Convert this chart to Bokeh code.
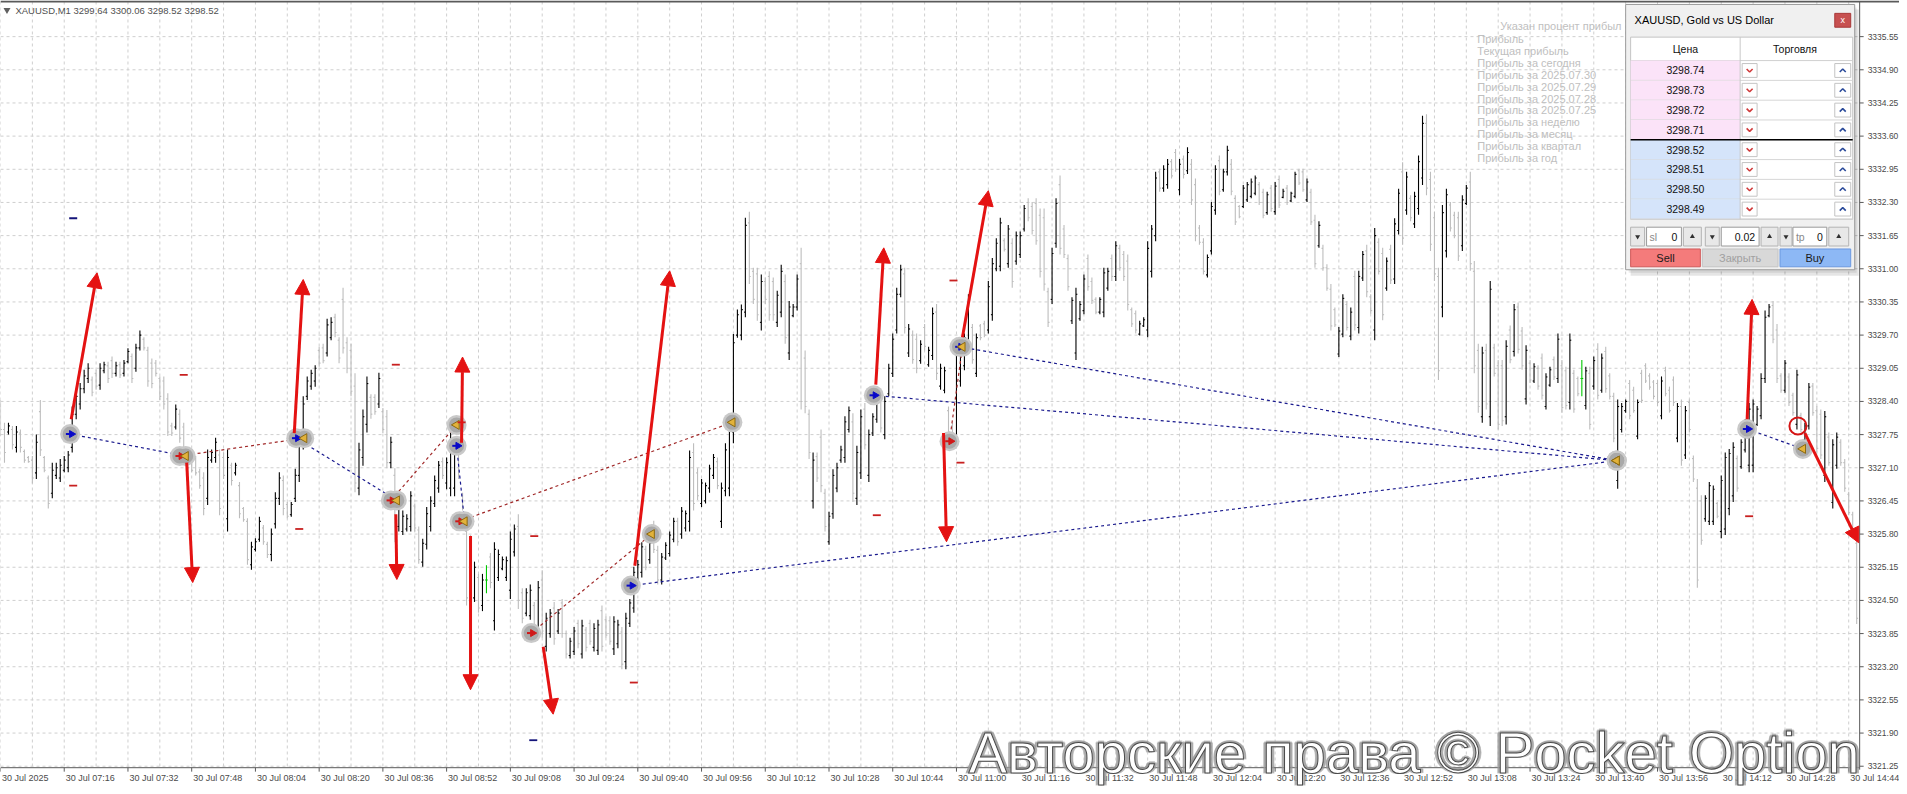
import math
from bokeh.plotting import figure
from bokeh.models import (ColumnDataSource, Range1d, Label, LabelSet, Arrow, NormalHead)
from bokeh.core.properties import value
from bokeh.embed import file_html
from bokeh.resources import INLINE

FONT = "Liberation Sans"

# ---------------- data: XAUUSD M1 bars (one per minute from 07:00) ----------------
opens = [
 3328.30, 3327.85, 3327.80, 3327.85, 3327.50, 3327.78, 3327.42, 3327.30, 3327.25, 3327.00,
 3328.20, 3327.30, 3326.90, 3326.60, 3326.95, 3326.90, 3327.05, 3327.10, 3327.50, 3328.15,
 3328.35, 3328.65, 3328.85, 3328.82, 3328.95, 3328.72, 3329.00, 3329.10, 3329.20, 3328.95,
 3329.12, 3328.95, 3329.18, 3329.28, 3329.05, 3329.45, 3329.62, 3329.40, 3329.15, 3329.15,
 3328.85, 3328.80, 3328.45, 3327.92, 3327.90, 3328.15, 3327.90, 3327.40, 3327.28, 3327.28,
 3327.02, 3326.90, 3326.50, 3327.25, 3327.30, 3327.35, 3327.30, 3326.10, 3327.15, 3327.00,
 3326.75, 3326.30, 3326.05, 3325.20, 3325.50, 3325.70, 3325.92, 3325.60, 3325.40, 3326.00,
 3326.50, 3326.85, 3326.38, 3326.18, 3326.50, 3326.95, 3327.60, 3328.50, 3328.70, 3328.80,
 3329.40, 3329.45, 3329.35, 3329.65, 3330.05, 3329.60, 3330.40, 3329.55, 3329.40, 3328.70,
 3326.70, 3327.30, 3327.95, 3328.48, 3328.48, 3328.35, 3328.20, 3328.10, 3327.20, 3326.95,
 3325.95, 3325.85, 3325.90, 3325.95, 3326.35, 3325.88, 3325.25, 3325.60, 3325.95, 3326.40,
 3326.70, 3327.22, 3326.80, 3326.70, 3326.70, 3327.45, 3326.55, 3325.85, 3325.60, 3324.55,
 3324.95, 3324.40, 3324.90, 3325.35, 3324.10, 3324.95, 3325.12, 3324.95, 3324.70, 3325.45,
 3325.95, 3324.65, 3324.25, 3324.20, 3324.40, 3323.90, 3324.90, 3323.60, 3323.85, 3324.35,
 3323.90, 3324.45, 3323.85, 3323.42, 3323.50, 3324.05, 3323.45, 3323.92, 3324.05, 3323.58,
 3323.52, 3324.30, 3324.12, 3324.10, 3323.55, 3323.65, 3323.88, 3323.30, 3324.05, 3324.35,
 3324.82, 3325.05, 3325.50, 3325.30, 3325.98, 3325.48, 3324.90, 3325.33, 3325.42, 3325.70,
 3326.05, 3325.80, 3325.92, 3326.05, 3327.40, 3327.00, 3326.40, 3326.45, 3326.70, 3326.95,
 3327.22, 3326.05, 3326.65, 3326.70, 3327.80, 3329.70, 3329.70, 3330.15, 3331.90, 3330.95,
 3330.90, 3329.95, 3330.75, 3330.85, 3330.75, 3329.95, 3330.15, 3330.75, 3329.35, 3330.08,
 3330.25, 3331.10, 3329.25, 3328.15, 3326.45, 3327.32, 3327.70, 3326.60, 3325.65, 3326.20,
 3326.70, 3327.25, 3327.30, 3327.85, 3328.00, 3326.50, 3327.00, 3328.25, 3326.95, 3327.78,
 3328.05, 3328.45, 3327.75, 3328.55, 3328.95, 3329.80, 3330.50, 3330.90, 3329.35, 3329.70,
 3329.62, 3329.20, 3329.85, 3329.12, 3329.30, 3330.15, 3328.70, 3328.62, 3328.22, 3327.92,
 3327.65, 3328.80, 3329.10, 3329.50, 3329.85, 3328.95, 3329.88, 3329.92, 3329.80, 3330.10,
 3331.00, 3331.05, 3331.55, 3331.10, 3331.50, 3331.15, 3331.28, 3331.78, 3332.30, 3332.22,
 3332.28, 3332.05, 3332.00, 3330.55, 3330.40, 3331.50, 3332.65, 3331.78, 3331.20, 3329.98,
 3329.35, 3330.02, 3330.18, 3331.20, 3330.75, 3330.40, 3330.15, 3330.15, 3330.62, 3331.20,
 3330.85, 3331.40, 3331.28, 3331.15, 3330.20, 3330.12, 3329.72, 3329.88, 3329.80, 3330.95,
 3331.65, 3332.90, 3332.58, 3332.65, 3333.10, 3333.28, 3332.55, 3333.15, 3332.92, 3333.05,
 3332.65, 3331.80, 3331.52, 3330.88, 3331.35, 3332.15, 3333.12, 3332.55, 3332.90, 3333.05,
 3332.38, 3332.22, 3332.22, 3332.35, 3332.42, 3332.48, 3332.65, 3332.50, 3332.10, 3332.58,
 3332.12, 3332.75, 3332.40, 3332.58, 3332.33, 3332.42, 3332.92, 3332.90, 3332.35, 3332.50,
 3331.95, 3331.45, 3331.40, 3331.02, 3330.60, 3330.20, 3329.33, 3329.72, 3330.30, 3329.68,
 3330.85, 3329.85, 3330.82, 3331.35, 3330.45, 3329.80, 3331.52, 3331.30, 3330.62, 3331.38,
 3330.80, 3331.75, 3332.90, 3332.15, 3332.38, 3331.88, 3332.18, 3332.78, 3333.85, 3332.75,
 3332.00, 3330.85, 3330.25, 3331.35, 3332.25, 3332.05, 3332.00, 3331.45, 3332.28, 3332.70,
 3330.95, 3329.40, 3328.10, 3329.40, 3328.10, 3329.45, 3329.10, 3329.10, 3328.10, 3329.80,
 3329.38, 3330.25, 3329.78, 3328.45, 3329.15, 3328.80, 3329.05, 3329.25, 3328.30, 3328.72,
 3329.22, 3328.85, 3329.10, 3329.00, 3328.38, 3328.95, 3328.85, 3328.85, 3328.32, 3328.95,
 3328.70, 3329.42, 3328.62, 3329.38, 3328.90, 3328.50, 3326.85, 3327.85, 3328.22, 3328.75,
 3328.62, 3327.72, 3328.95, 3329.10, 3328.90, 3328.78, 3328.75, 3328.12, 3329.00, 3328.62,
 3328.82, 3327.68, 3328.30, 3327.35, 3328.38, 3327.28, 3326.70, 3326.45, 3326.10, 3326.05,
 3326.05, 3326.40, 3325.85, 3325.90, 3326.30, 3326.55, 3327.28, 3327.12, 3327.45, 3327.15,
 3327.15, 3327.95, 3328.12, 3328.85, 3330.08, 3330.28, 3329.80, 3328.90, 3328.62, 3328.88,
 3328.52, 3327.95, 3328.12, 3327.65, 3327.92, 3328.70, 3328.22, 3328.15, 3326.95, 3327.70,
 3326.42, 3327.15, 3327.60, 3327.20, 3326.58, 3326.18, 3325.62,
]
highs = [
 3328.43, 3327.98, 3327.98, 3327.92, 3327.92, 3327.85, 3327.46, 3327.33, 3327.33, 3327.75,
 3328.43, 3327.33, 3326.95, 3327.20, 3327.20, 3327.27, 3327.33, 3327.43, 3328.30, 3328.63,
 3328.76, 3329.02, 3329.15, 3328.89, 3329.02, 3329.15, 3329.18, 3329.18, 3329.28, 3329.18,
 3329.18, 3329.21, 3329.44, 3329.34, 3329.53, 3329.79, 3329.66, 3329.47, 3329.24, 3329.21,
 3328.89, 3328.89, 3328.56, 3327.98, 3328.34, 3328.24, 3327.98, 3327.46, 3327.33, 3327.33,
 3327.08, 3327.01, 3327.46, 3327.46, 3327.69, 3327.46, 3327.40, 3327.46, 3327.20, 3327.20,
 3326.82, 3326.33, 3326.11, 3325.65, 3325.72, 3326.14, 3325.98, 3325.65, 3325.91, 3326.62,
 3327.01, 3326.95, 3326.43, 3326.43, 3327.08, 3327.85, 3328.50, 3328.89, 3329.02, 3329.11,
 3329.47, 3329.53, 3330.02, 3330.05, 3330.12, 3329.66, 3330.63, 3329.66, 3329.53, 3328.95,
 3327.59, 3328.24, 3328.89, 3328.54, 3328.54, 3328.96, 3328.27, 3328.23, 3327.71, 3327.09,
 3326.54, 3326.26, 3326.19, 3326.64, 3326.40, 3325.95, 3325.71, 3326.33, 3326.54, 3326.95,
 3327.23, 3327.30, 3327.30, 3327.78, 3327.64, 3327.51, 3326.61, 3325.99, 3325.78, 3325.26,
 3325.02, 3325.02, 3325.19, 3325.43, 3325.64, 3325.50, 3325.36, 3325.36, 3325.85, 3325.99,
 3326.19, 3324.74, 3324.74, 3324.81, 3324.47, 3324.88, 3325.09, 3324.26, 3324.33, 3324.47,
 3324.33, 3324.53, 3323.91, 3323.77, 3323.98, 3324.12, 3324.12, 3323.98, 3324.12, 3324.05,
 3324.12, 3324.40, 3324.19, 3324.19, 3324.19, 3324.12, 3323.98, 3324.26, 3324.53, 3325.16,
 3325.29, 3325.64, 3325.57, 3325.71, 3326.06, 3325.57, 3325.43, 3325.64, 3325.85, 3326.12,
 3326.12, 3326.33, 3326.26, 3327.44, 3327.58, 3327.09, 3326.88, 3326.81, 3327.16, 3327.37,
 3327.30, 3326.81, 3327.58, 3327.99, 3329.72, 3330.20, 3330.30, 3332.00, 3332.12, 3331.02,
 3331.02, 3330.89, 3330.83, 3330.95, 3330.83, 3330.57, 3331.08, 3330.89, 3330.37, 3330.31,
 3330.89, 3331.41, 3329.40, 3328.24, 3327.40, 3327.40, 3327.85, 3326.69, 3326.24, 3327.07,
 3327.20, 3327.53, 3328.11, 3328.30, 3328.17, 3327.53, 3328.24, 3328.37, 3327.85, 3328.17,
 3328.56, 3328.56, 3328.50, 3329.14, 3329.73, 3330.63, 3331.08, 3331.02, 3329.92, 3329.79,
 3329.73, 3329.60, 3329.92, 3329.47, 3330.24, 3330.31, 3329.14, 3329.08, 3328.30, 3327.98,
 3329.53, 3329.66, 3329.73, 3330.50, 3329.92, 3329.73, 3329.92, 3329.98, 3330.76, 3331.21,
 3331.60, 3332.00, 3331.60, 3331.86, 3331.60, 3331.73, 3331.73, 3332.25, 3332.38, 3332.31,
 3332.38, 3332.18, 3332.18, 3330.63, 3331.41, 3332.38, 3332.83, 3331.86, 3331.28, 3330.44,
 3330.63, 3330.37, 3330.89, 3331.28, 3330.83, 3330.44, 3330.44, 3331.02, 3331.02, 3331.28,
 3331.54, 3331.47, 3331.35, 3331.28, 3330.24, 3330.18, 3329.98, 3330.05, 3331.54, 3331.86,
 3332.90, 3332.96, 3333.03, 3333.15, 3333.15, 3333.35, 3333.15, 3333.22, 3333.38, 3333.15,
 3332.77, 3331.86, 3331.60, 3331.28, 3332.31, 3333.03, 3333.22, 3332.96, 3333.41, 3333.15,
 3332.44, 3332.25, 3332.64, 3332.70, 3332.77, 3332.83, 3332.70, 3332.57, 3332.51, 3332.64,
 3332.70, 3332.83, 3332.57, 3332.64, 3332.51, 3332.90, 3332.96, 3332.96, 3332.77, 3332.57,
 3332.06, 3331.93, 3331.47, 3331.09, 3330.70, 3330.24, 3329.86, 3330.50, 3330.37, 3330.24,
 3330.96, 3330.96, 3331.35, 3331.47, 3330.50, 3331.80, 3331.60, 3331.41, 3331.22, 3331.47,
 3331.99, 3332.57, 3333.09, 3332.90, 3332.44, 3332.51, 3333.22, 3334.00, 3334.03, 3332.90,
 3332.12, 3331.02, 3332.25, 3332.57, 3332.31, 3332.12, 3332.12, 3332.44, 3332.64, 3332.90,
 3331.15, 3329.53, 3329.47, 3329.53, 3330.76, 3329.53, 3329.21, 3329.21, 3329.60, 3329.89,
 3330.31, 3330.34, 3329.86, 3329.50, 3329.21, 3329.15, 3329.11, 3329.34, 3328.95, 3329.08,
 3329.28, 3329.73, 3329.21, 3329.08, 3329.73, 3329.02, 3328.89, 3329.21, 3329.08, 3329.08,
 3329.28, 3329.54, 3329.34, 3329.47, 3328.95, 3328.57, 3328.44, 3328.37, 3328.44, 3328.82,
 3328.69, 3328.44, 3329.02, 3329.15, 3328.95, 3328.82, 3328.82, 3328.89, 3329.08, 3328.69,
 3328.89, 3328.37, 3328.44, 3328.31, 3328.44, 3327.34, 3326.88, 3326.56, 3326.56, 3326.82,
 3326.75, 3326.43, 3326.95, 3327.40, 3327.47, 3327.60, 3327.34, 3327.66, 3328.05, 3328.37,
 3328.44, 3328.31, 3328.95, 3330.18, 3330.31, 3330.37, 3329.92, 3328.95, 3329.21, 3328.95,
 3328.57, 3329.02, 3328.18, 3327.98, 3328.76, 3328.76, 3328.31, 3328.24, 3328.21, 3327.79,
 3327.66, 3327.79, 3327.66, 3327.27, 3326.63, 3326.24, 3325.72,
]
lows = [
 3327.72, 3327.20, 3327.75, 3327.46, 3327.40, 3327.40, 3327.20, 3327.20, 3326.79, 3326.88,
 3327.33, 3327.01, 3326.30, 3326.50, 3326.88, 3326.82, 3327.01, 3327.01, 3327.40, 3328.05,
 3328.24, 3328.56, 3328.76, 3328.50, 3328.63, 3328.63, 3328.95, 3328.76, 3328.86, 3328.89,
 3328.86, 3328.89, 3329.15, 3328.76, 3328.98, 3329.40, 3329.40, 3328.69, 3328.66, 3328.89,
 3328.43, 3328.24, 3327.72, 3327.72, 3327.85, 3327.59, 3327.33, 3327.01, 3327.01, 3326.95,
 3326.69, 3326.17, 3326.37, 3327.20, 3327.20, 3326.17, 3326.88, 3325.85, 3326.75, 3326.95,
 3326.11, 3326.04, 3325.20, 3325.10, 3325.46, 3325.65, 3325.59, 3325.33, 3325.27, 3325.91,
 3326.37, 3326.17, 3326.11, 3326.14, 3326.43, 3326.82, 3327.46, 3328.43, 3328.63, 3328.69,
 3329.08, 3329.15, 3329.28, 3329.60, 3329.66, 3329.15, 3329.34, 3328.95, 3328.50, 3326.62,
 3326.56, 3327.14, 3327.79, 3328.06, 3328.14, 3328.27, 3327.78, 3327.09, 3327.09, 3325.64,
 3325.85, 3325.78, 3325.85, 3325.85, 3325.85, 3325.22, 3325.16, 3325.50, 3325.85, 3326.33,
 3326.61, 3326.88, 3326.68, 3326.54, 3326.54, 3326.88, 3326.26, 3324.40, 3324.33, 3324.47,
 3324.26, 3324.29, 3324.64, 3324.74, 3323.91, 3324.88, 3325.09, 3324.88, 3324.53, 3325.36,
 3324.33, 3324.05, 3324.19, 3324.12, 3323.91, 3323.77, 3323.77, 3323.50, 3323.77, 3323.63,
 3323.84, 3323.77, 3323.36, 3323.36, 3323.43, 3323.56, 3323.36, 3323.50, 3323.63, 3323.50,
 3323.43, 3323.50, 3323.77, 3323.63, 3323.43, 3323.56, 3323.15, 3323.15, 3323.98, 3324.26,
 3324.74, 3324.95, 3325.09, 3325.22, 3325.43, 3324.81, 3324.81, 3325.29, 3325.36, 3325.64,
 3325.57, 3325.71, 3325.85, 3325.85, 3326.26, 3326.47, 3326.33, 3326.40, 3326.61, 3326.88,
 3326.68, 3325.92, 3326.54, 3326.54, 3327.58, 3329.65, 3329.60, 3330.05, 3330.70, 3330.31,
 3329.98, 3329.79, 3330.31, 3329.98, 3329.98, 3329.86, 3330.05, 3329.53, 3329.21, 3330.05,
 3330.18, 3328.24, 3328.17, 3327.27, 3326.30, 3326.82, 3326.62, 3325.85, 3325.59, 3326.10,
 3326.62, 3327.20, 3327.20, 3327.79, 3326.43, 3326.37, 3326.88, 3327.46, 3326.82, 3327.72,
 3327.98, 3327.79, 3327.66, 3328.50, 3328.88, 3329.73, 3330.44, 3329.73, 3329.27, 3329.14,
 3328.95, 3329.14, 3329.40, 3329.08, 3329.21, 3328.82, 3328.63, 3328.56, 3327.72, 3327.53,
 3327.53, 3328.69, 3329.01, 3329.40, 3329.14, 3328.88, 3329.60, 3329.66, 3329.73, 3329.98,
 3330.95, 3330.95, 3331.34, 3331.02, 3330.63, 3331.08, 3331.21, 3331.73, 3331.93, 3331.67,
 3331.47, 3330.83, 3330.57, 3329.86, 3330.31, 3331.41, 3331.28, 3331.21, 3330.57, 3329.92,
 3329.21, 3329.98, 3330.11, 3330.57, 3330.31, 3330.11, 3330.11, 3330.05, 3330.57, 3330.76,
 3330.76, 3330.96, 3330.76, 3330.18, 3329.86, 3329.73, 3329.69, 3329.86, 3329.66, 3330.83,
 3331.54, 3332.51, 3332.51, 3332.57, 3332.77, 3332.90, 3332.44, 3332.77, 3332.86, 3332.25,
 3331.54, 3331.47, 3330.89, 3330.83, 3331.28, 3332.06, 3332.44, 3332.51, 3332.83, 3332.44,
 3331.86, 3331.99, 3332.19, 3332.31, 3332.38, 3332.44, 3332.25, 3331.99, 3332.06, 3332.12,
 3332.06, 3332.19, 3332.38, 3332.25, 3332.31, 3332.38, 3332.64, 3332.51, 3332.31, 3331.86,
 3331.02, 3331.41, 3330.96, 3330.57, 3329.79, 3329.86, 3329.27, 3329.66, 3329.79, 3329.60,
 3329.79, 3329.73, 3330.76, 3330.44, 3330.12, 3329.60, 3330.89, 3329.99, 3330.57, 3330.70,
 3330.70, 3331.67, 3331.47, 3332.06, 3331.93, 3331.80, 3332.06, 3332.64, 3332.44, 3331.35,
 3330.76, 3328.82, 3330.05, 3331.22, 3331.73, 3331.60, 3331.15, 3331.35, 3332.25, 3330.96,
 3328.95, 3328.18, 3327.98, 3328.24, 3327.92, 3328.89, 3327.85, 3327.92, 3327.95, 3329.15,
 3329.28, 3329.34, 3329.02, 3328.34, 3328.76, 3328.76, 3328.63, 3328.44, 3328.24, 3328.69,
 3328.82, 3328.76, 3328.18, 3328.24, 3328.24, 3328.18, 3328.50, 3328.50, 3328.24, 3327.85,
 3328.63, 3328.44, 3328.57, 3328.57, 3328.44, 3327.60, 3326.69, 3327.79, 3328.18, 3328.05,
 3328.18, 3327.66, 3328.37, 3328.76, 3328.63, 3328.44, 3328.31, 3328.05, 3328.50, 3328.18,
 3328.31, 3327.60, 3327.14, 3327.27, 3327.79, 3326.82, 3324.75, 3325.59, 3326.04, 3325.98,
 3325.98, 3326.11, 3325.72, 3325.78, 3326.17, 3326.43, 3326.63, 3327.08, 3327.40, 3327.01,
 3327.01, 3327.92, 3328.05, 3328.76, 3330.05, 3329.54, 3328.76, 3328.57, 3328.57, 3328.31,
 3328.12, 3327.85, 3327.79, 3327.60, 3327.85, 3328.12, 3327.40, 3327.27, 3326.82, 3327.14,
 3326.30, 3327.08, 3327.14, 3326.63, 3326.17, 3325.72, 3324.04,
]
closes = [
 3327.85, 3327.40, 3327.92, 3327.55, 3327.80, 3327.50, 3327.25, 3327.22, 3326.90, 3327.60,
 3327.45, 3327.05, 3326.40, 3327.05, 3327.10, 3327.15, 3327.25, 3327.35, 3328.15, 3328.50,
 3328.65, 3328.90, 3329.05, 3328.58, 3328.70, 3329.05, 3329.12, 3328.85, 3328.95, 3329.10,
 3328.92, 3329.15, 3329.38, 3328.85, 3329.45, 3329.70, 3329.45, 3328.80, 3328.75, 3328.95,
 3328.50, 3328.35, 3327.80, 3327.78, 3328.25, 3327.68, 3327.40, 3327.10, 3327.05, 3327.00,
 3326.75, 3326.30, 3327.30, 3327.40, 3327.60, 3326.30, 3326.95, 3327.30, 3326.85, 3327.15,
 3326.20, 3326.08, 3325.30, 3325.55, 3325.65, 3326.05, 3325.65, 3325.40, 3325.80, 3326.50,
 3326.90, 3326.30, 3326.15, 3326.38, 3326.95, 3327.70, 3328.35, 3328.80, 3328.95, 3329.05,
 3329.15, 3329.20, 3329.90, 3329.95, 3329.75, 3329.25, 3329.45, 3329.05, 3328.60, 3326.80,
 3327.45, 3328.10, 3328.75, 3328.15, 3328.20, 3328.85, 3327.85, 3327.20, 3327.60, 3325.80,
 3326.45, 3326.15, 3326.10, 3326.55, 3325.92, 3325.30, 3325.62, 3326.20, 3326.45, 3326.85,
 3327.15, 3326.95, 3327.20, 3327.65, 3327.55, 3326.95, 3326.30, 3324.55, 3324.45, 3325.15,
 3324.35, 3324.90, 3324.90, 3324.85, 3325.50, 3325.40, 3325.30, 3325.28, 3325.70, 3325.90,
 3324.50, 3324.15, 3324.65, 3324.70, 3324.00, 3324.75, 3323.90, 3324.15, 3324.25, 3323.75,
 3324.25, 3323.85, 3323.45, 3323.70, 3323.90, 3323.65, 3324.00, 3323.58, 3323.70, 3323.95,
 3324.02, 3323.60, 3323.82, 3323.70, 3324.08, 3324.02, 3323.25, 3324.15, 3324.45, 3325.05,
 3325.20, 3325.55, 3325.15, 3325.62, 3325.50, 3324.90, 3325.35, 3325.58, 3325.78, 3326.05,
 3325.65, 3326.25, 3326.20, 3327.30, 3326.40, 3326.55, 3326.80, 3326.75, 3327.08, 3327.30,
 3326.75, 3326.70, 3327.45, 3327.90, 3329.55, 3330.10, 3330.20, 3331.85, 3330.85, 3330.40,
 3330.10, 3330.75, 3330.40, 3330.10, 3330.10, 3330.48, 3330.95, 3329.65, 3330.25, 3330.25,
 3330.80, 3328.40, 3328.30, 3327.40, 3327.25, 3326.90, 3326.75, 3325.95, 3326.15, 3326.95,
 3327.10, 3327.45, 3328.00, 3328.22, 3326.60, 3327.40, 3328.10, 3327.55, 3327.75, 3328.10,
 3328.48, 3327.88, 3328.40, 3329.05, 3329.62, 3330.50, 3330.98, 3329.85, 3329.82, 3329.22,
 3329.05, 3329.52, 3329.48, 3329.40, 3330.12, 3328.95, 3329.05, 3329.00, 3327.80, 3327.60,
 3329.40, 3329.55, 3329.65, 3330.40, 3329.22, 3329.65, 3329.65, 3329.70, 3330.65, 3331.10,
 3331.50, 3331.90, 3331.38, 3331.78, 3330.75, 3331.65, 3331.65, 3332.18, 3332.00, 3331.75,
 3331.55, 3330.95, 3330.70, 3329.95, 3331.30, 3332.28, 3331.40, 3331.28, 3330.65, 3330.38,
 3330.50, 3330.30, 3330.80, 3330.65, 3330.38, 3330.15, 3330.40, 3330.92, 3330.95, 3330.85,
 3331.45, 3331.02, 3330.85, 3330.30, 3329.92, 3329.80, 3329.92, 3330.00, 3331.40, 3331.78,
 3332.78, 3332.58, 3332.95, 3333.05, 3332.82, 3332.95, 3333.05, 3332.85, 3333.28, 3332.35,
 3331.65, 3331.52, 3330.95, 3331.22, 3332.22, 3332.95, 3332.52, 3332.90, 3333.32, 3332.52,
 3331.92, 3332.02, 3332.58, 3332.65, 3332.70, 3332.78, 3332.30, 3332.05, 3332.45, 3332.18,
 3332.62, 3332.25, 3332.52, 3332.30, 3332.48, 3332.85, 3332.68, 3332.55, 3332.70, 3331.92,
 3331.10, 3331.85, 3331.02, 3330.62, 3329.88, 3329.90, 3329.78, 3330.42, 3329.85, 3330.15,
 3329.90, 3330.85, 3331.28, 3330.55, 3330.18, 3331.65, 3330.95, 3330.10, 3331.15, 3330.78,
 3331.88, 3332.48, 3331.60, 3332.80, 3332.00, 3332.42, 3333.10, 3333.85, 3332.58, 3331.48,
 3330.90, 3329.00, 3332.10, 3332.45, 3331.80, 3331.65, 3331.25, 3332.35, 3332.58, 3331.10,
 3329.10, 3328.30, 3329.35, 3328.35, 3330.60, 3328.95, 3327.95, 3328.02, 3329.48, 3329.22,
 3330.20, 3329.42, 3329.10, 3329.40, 3328.82, 3329.08, 3328.70, 3328.52, 3328.88, 3329.02,
 3328.88, 3329.62, 3328.28, 3328.32, 3329.60, 3328.25, 3328.55, 3328.85, 3329.00, 3327.95,
 3329.20, 3328.52, 3329.25, 3328.65, 3328.50, 3327.68, 3328.30, 3328.30, 3328.40, 3328.12,
 3328.22, 3328.38, 3328.42, 3328.80, 3328.68, 3328.50, 3328.38, 3328.80, 3328.55, 3328.22,
 3328.38, 3328.30, 3327.25, 3328.22, 3327.85, 3326.88, 3324.90, 3325.68, 3326.50, 3326.75,
 3326.68, 3326.15, 3326.85, 3327.30, 3327.38, 3327.50, 3326.70, 3327.60, 3327.98, 3328.25,
 3328.35, 3328.25, 3328.85, 3330.05, 3330.25, 3329.62, 3328.85, 3328.62, 3329.15, 3328.38,
 3328.18, 3328.92, 3327.85, 3327.92, 3328.68, 3328.18, 3327.48, 3327.35, 3328.10, 3327.20,
 3327.55, 3327.70, 3327.20, 3326.70, 3326.22, 3325.78, 3324.15,
]

# axis ticks and labels
price_ticks = [3335.55, 3334.90, 3334.25, 3333.60, 3332.95, 3332.30, 3331.65, 3331.00,
               3330.35, 3329.70, 3329.05, 3328.40, 3327.75, 3327.10, 3326.45, 3325.80,
               3325.15, 3324.50, 3323.85, 3323.20, 3322.55, 3321.90, 3321.25]
time_ticks = [0, 16, 32, 48, 64, 80, 96, 112, 128, 144, 160, 176, 192, 208, 224,
              240, 256, 272, 288, 304, 320, 336, 352, 368, 384, 400, 416, 432, 448, 464]
time_labels = ["30 Jul 2025", "30 Jul 07:16", "30 Jul 07:32", "30 Jul 07:48", "30 Jul 08:04",
               "30 Jul 08:20", "30 Jul 08:36", "30 Jul 08:52", "30 Jul 09:08", "30 Jul 09:24",
               "30 Jul 09:40", "30 Jul 09:56", "30 Jul 10:12", "30 Jul 10:28", "30 Jul 10:44",
               "30 Jul 11:00", "30 Jul 11:16", "30 Jul 11:32", "30 Jul 11:48", "30 Jul 12:04",
               "30 Jul 12:20", "30 Jul 12:36", "30 Jul 12:52", "30 Jul 13:08", "30 Jul 13:24",
               "30 Jul 13:40", "30 Jul 13:56", "30 Jul 14:12", "30 Jul 14:28", "30 Jul 14:44"]

# trades (bar index, price)
trade_side = ["buy", "sell", "buy", "sell", "buy", "sell", "sell", "buy", "buy", "buy", "sell", "buy"]
trade_open_bar = [17.5, 45.0, 74.25, 98.0, 114.5, 115.25, 133.25, 158.25, 219.25, 240.75, 238.25, 438.5]
trade_open_price = [3327.76, 3327.33, 3327.68, 3326.46, 3327.53, 3326.05, 3323.86, 3324.79,
                    3328.52, 3329.47, 3327.62, 3327.86]
trade_close_bar = [46.5, 76.25, 99.5, 114.5, 116.5, 183.75, 163.5, 405.75, 405.75, 405.75, 241.5, 452.5]
trade_close_price = [3327.33, 3327.68, 3326.46, 3327.94, 3326.05, 3327.99, 3325.80, 3327.24,
                     3327.24, 3327.24, 3329.47, 3327.47]

# hand-drawn red arrows
arrow_bar0 = [17.75, 46.75, 73.75, 99.25, 115.75, 118.0, 136.25, 159.25, 219.75, 241.5, 236.75, 438.5, 453.0]
arrow_price0 = [3328.05, 3327.20, 3327.78, 3326.19, 3327.59, 3325.76, 3323.59, 3325.18, 3328.73,
                3329.66, 3327.78, 3328.05, 3327.78]
arrow_bar1 = [24.25, 48.25, 76.0, 99.5, 116.0, 118.0, 138.75, 168.0, 221.75, 248.0, 237.5, 439.75, 466.5]
arrow_price1 = [3330.92, 3324.85, 3330.79, 3324.91, 3329.27, 3322.75, 3322.27, 3330.96, 3331.41,
                3332.53, 3325.65, 3330.40, 3325.63]

# stop / take-profit level dashes
level_bar = [18.25, 18.25, 46.0, 75.0, 99.25, 115.75, 134.0, 159.0, 133.75, 220.0, 239.25, 241.0, 439.0]
level_price = [3331.99, 3326.75, 3328.92, 3325.90, 3329.12, 3327.99, 3325.76, 3322.89, 3321.76,
               3326.17, 3330.77, 3327.20, 3326.15]
level_side = ["buy", "sell", "sell", "sell", "sell", "sell", "sell", "sell", "buy", "sell", "sell", "sell", "sell"]

# highlighted bar (red ring)
ring_bar = [451.25]
ring_price = [3327.92]

header_text = "XAUUSD,M1  3299.64 3300.06 3298.52 3298.52"
info_title = "Указан процент прибыл"
info_lines = ["Прибыль", "Текущая прибыль", "Прибыль за сегодня", "Прибыль за 2025.07.30",
              "Прибыль за 2025.07.29", "Прибыль за 2025.07.28", "Прибыль за 2025.07.25",
              "Прибыль за неделю", "Прибыль за месяц", "Прибыль за квартал", "Прибыль за год"]
panel_title = "XAUUSD, Gold vs US Dollar"
ask_prices = ["3298.74", "3298.73", "3298.72", "3298.71"]
bid_prices = ["3298.52", "3298.51", "3298.50", "3298.49"]
lot_text = "0.02"
watermark = "Авторские права © Pocket Option"


# ---------------- layout helpers (reference pixel -> data) ----------------
def bx(px):
    return px / 4.0


def py(px):
    return 3335.55 - (px - 36.5) / 51.54


# the whole canvas is the plot frame; axes are drawn by hand so nothing gets clipped
p = figure(width=1899, height=786, x_range=Range1d(bx(0), bx(1907)), y_range=Range1d(py(794), py(0)),
           output_backend="svg", toolbar_location=None,
           x_axis_location=None, y_axis_location=None,
           min_border_left=0, min_border_right=0, min_border_top=0, min_border_bottom=0)
p.background_fill_color = "white"
p.border_fill_color = "white"
p.outline_line_color = None
for g in p.grid:
    g.visible = False

AX = "#5a5a5a"
CHART_R = 1867
CHART_B = 775

# dashed grid
vg = list(range(0, 467, 8))
p.segment(x0=vg, y0=[py(1)] * len(vg), x1=vg, y1=[py(CHART_B)] * len(vg),
          line_color="#cfcfcf", line_width=1, line_dash="3 3")
p.segment(x0=[bx(0)] * len(price_ticks), y0=price_ticks, x1=[bx(CHART_R)] * len(price_ticks), y1=price_ticks,
          line_color="#cfcfcf", line_width=1, line_dash="3 3")

# frame lines
p.segment(x0=[bx(0)], y0=[py(1)], x1=[bx(1907)], y1=[py(1)], line_color=AX, line_width=2)
p.segment(x0=[bx(CHART_R)], y0=[py(1)], x1=[bx(CHART_R)], y1=[py(CHART_B + 2)], line_color=AX, line_width=1)
p.segment(x0=[bx(0)], y0=[py(CHART_B)], x1=[bx(CHART_R)], y1=[py(CHART_B)], line_color=AX, line_width=1)

# price scale (right)
p.segment(x0=[bx(CHART_R)] * len(price_ticks), y0=price_ticks, x1=[bx(CHART_R + 4)] * len(price_ticks),
          y1=price_ticks, line_color=AX, line_width=1)
psrc = ColumnDataSource(dict(x=[bx(1875)] * len(price_ticks), y=price_ticks,
                             t=["%.2f" % v for v in price_ticks]))
p.add_layout(LabelSet(x="x", y="y", text="t", source=psrc, text_font=value(FONT),
                      text_font_size=value("8.5px"), text_color="#4a4a4a",
                      text_align="left", text_baseline="middle"))

# time scale (bottom)
p.segment(x0=time_ticks, y0=[py(CHART_B)] * len(time_ticks), x1=time_ticks,
          y1=[py(CHART_B + 4)] * len(time_ticks), line_color=AX, line_width=1)
tsrc = ColumnDataSource(dict(x=time_ticks, y=[py(785)] * len(time_ticks), t=time_labels))
p.add_layout(LabelSet(x="x", y="y", text="t", source=tsrc, x_offset=1.5,
                      text_font=value(FONT), text_font_size=value("9px"), text_color="#4a4a4a",
                      text_align="left", text_baseline="middle"))

# ---------------- OHLC bars ----------------
n = len(closes)
bar_x = list(range(n))
bar_col = ["#000000" if c > o else ("#bdbdbd" if c < o else "#00c800") for o, c in zip(opens, closes)]
src = ColumnDataSource(dict(x=bar_x, xl=[x - 0.35 for x in bar_x], xr=[x + 0.35 for x in bar_x],
                            o=opens, h=highs, l=lows, c=closes, col=bar_col))
p.segment(x0="x", y0="l", x1="x", y1="h", line_color="col", line_width=1.1, source=src)
p.segment(x0="xl", y0="o", x1="x", y1="o", line_color="col", line_width=1.1, source=src)
p.segment(x0="x", y0="c", x1="xr", y1="c", line_color="col", line_width=1.1, source=src)

# ---------------- trades ----------------
BLUE = "#1a1a8e"
RED_T = "#a02828"
line_col = [BLUE if s == "buy" else RED_T for s in trade_side]
p.segment(x0=trade_open_bar, y0=trade_open_price, x1=trade_close_bar, y1=trade_close_price,
          line_color=line_col, line_width=1.2, line_dash="3 3")

circ_x = trade_open_bar + trade_close_bar
circ_y = trade_open_price + trade_close_price
p.scatter(circ_x, circ_y, size=20, fill_color="#c9c9c9", line_color=None)
p.scatter(circ_x, circ_y, size=15, fill_color="#a9a9a9", line_color=None)

icon_col = ["#0a0ac8" if s == "buy" else "#d01818" for s in trade_side]
p.scatter([b + 0.35 for b in trade_open_bar], trade_open_price, marker="triangle", angle=-math.pi / 2,
          size=7, fill_color=icon_col, line_color=icon_col)
p.scatter([b - 0.45 for b in trade_open_bar], trade_open_price, marker="dash", size=5,
          line_color=icon_col, line_width=2)
p.scatter(trade_close_bar, trade_close_price, marker="triangle", angle=math.pi / 2, size=9,
          fill_color="#e2b23a", line_color="#8c6a12", line_width=1)

lvl_col = ["#14147a" if s == "buy" else "#c82020" for s in level_side]
p.scatter(level_bar, level_price, marker="dash", size=8, line_color=lvl_col, line_width=1.8)

# red drawn arrows
asrc = ColumnDataSource(dict(x0=arrow_bar0, y0=arrow_price0, x1=arrow_bar1, y1=arrow_price1))
p.add_layout(Arrow(end=NormalHead(size=15, fill_color="#e41212", line_color="#e41212"),
                   x_start="x0", y_start="y0", x_end="x1", y_end="y1", source=asrc,
                   line_color="#e41212", line_width=3))
p.scatter(ring_bar, ring_price, marker="circle", size=17, fill_color=None,
          line_color="#d41414", line_width=2)

# ---------------- header ----------------
p.scatter([bx(6.5)], [py(9.5)], marker="inverted_triangle", size=7, fill_color="#606060", line_color=None)
p.add_layout(Label(x=bx(15), y=py(10), text=header_text, text_font=FONT, text_font_size="9.5px",
                   text_color="#505050", text_align="left", text_baseline="middle"))

# profit info block (light grey)
p.add_layout(Label(x=bx(1506), y=py(26), text=info_title, text_font=FONT, text_font_size="11px",
                   text_color="#c0c0c0", text_align="left", text_baseline="middle"))
for k, s in enumerate(info_lines):
    p.add_layout(Label(x=bx(1483), y=py(39 + 12 * k), text=s, text_font=FONT, text_font_size="11px",
                       text_color="#c0c0c0", text_align="left", text_baseline="middle"))

# ---------------- watermark (soft grey halo + white text with dark outline) ----------------
WM_X, WM_Y = bx(972), py(760)
for dx, dy in [(2.5, 0.0), (-2.5, 0.0), (0.0, 2.5), (1.8, 1.8), (-1.8, 1.8)]:
    p.add_layout(Label(x=WM_X, y=WM_Y, text=watermark, text_font=FONT, text_font_size="58px",
                       text_color="#9a9a9a", text_alpha=0.5, text_outline_color="#9a9a9a",
                       x_offset=dx, y_offset=dy, text_align="left", text_baseline="alphabetic"))
p.add_layout(Label(x=WM_X, y=WM_Y, text=watermark, text_font=FONT, text_font_size="58px",
                   text_color="#ffffff", text_outline_color="#4a4a4a",
                   text_align="left", text_baseline="alphabetic"))


# ---------------- one-click trading panel ----------------
def rect(l, t, r, b, fill, line=None, alpha=1.0, lw=1):
    p.quad(left=bx(l), right=bx(r), top=py(t), bottom=py(b), fill_color=fill, fill_alpha=alpha,
           line_color=line, line_width=lw, level="overlay")


def hline(x0, x1, y, col, lw=1):
    p.segment(x0=[bx(x0)], y0=[py(y)], x1=[bx(x1)], y1=[py(y)], line_color=col, line_width=lw, level="overlay")


def vline(x, y0, y1, col, lw=1):
    p.segment(x0=[bx(x)], y0=[py(y0)], x1=[bx(x)], y1=[py(y1)], line_color=col, line_width=lw, level="overlay")


panel_labels = []


def txt(x, y, s, size, col, align="left"):
    panel_labels.append(Label(x=bx(x), y=py(y), text=s, text_font=FONT, text_font_size=f"{size}px",
                              text_color=col, text_align=align, text_baseline="middle", level="overlay"))


rect(1637, 9, 1866, 278, "#000000", None, 0.10)
rect(1635, 7, 1864, 275, "#000000", None, 0.08)
rect(1632, 4, 1862, 272, "#f0f0f0", "#9a9a9a")
txt(1641, 20, panel_title, 11, "#000000")
rect(1842, 13, 1858, 27, "#c75050", "#a83838")
txt(1850, 19.5, "x", 9, "#ffffff", "center")
rect(1637, 37, 1860, 221, "#ffffff", "#c4c4c4")
hline(1637, 1860, 60.7, "#d0d0d0")
txt(1692, 49, "Цена", 10.5, "#111111", "center")
txt(1802, 49, "Торговля", 10.5, "#111111", "center")

chev_dx, chev_dy, chev_ux, chev_uy = [], [], [], []
for k, s in enumerate(ask_prices + bid_prices):
    t = 60.7 + 20.0 * k
    b = t + 20.0
    rect(1637, t, 1747, b, "#fbe3f8" if k < 4 else "#d5e4fa", None)
    hline(1637, 1860, b, "#d6d6d6")
    txt(1692, t + 10, s, 10.5, "#111111", "center")
    rect(1749, t + 3, 1764, b - 3, "#ffffff", "#c4c4c4")
    rect(1842, t + 3, 1858, b - 3, "#ffffff", "#c4c4c4")
    cy = t + 10
    chev_dx.append([bx(1753.5), bx(1756.5), bx(1759.5)])
    chev_dy.append([py(cy - 1.5), py(cy + 1.5), py(cy - 1.5)])
    chev_ux.append([bx(1847), bx(1850), bx(1853)])
    chev_uy.append([py(cy + 1.5), py(cy - 1.5), py(cy + 1.5)])
vline(1747, 37, 221, "#c8c8c8")
hline(1637, 1860, 140.7, "#000000", 1.5)
p.multi_line(chev_dx, chev_dy, line_color="#d03a3a", line_width=1.6, level="overlay")
p.multi_line(chev_ux, chev_uy, line_color="#2a4a9a", line_width=1.6, level="overlay")

# sl / lot / tp controls
for l, r in [(1637, 1651), (1690, 1708), (1712, 1726), (1768, 1785), (1787, 1799), (1836, 1856)]:
    rect(l, 229, r, 248, "#e8e8e8", "#b4b4b4")
rect(1653, 229, 1688, 248, "#ffffff", "#9a9a9a")
rect(1728, 229, 1766, 248, "#ffffff", "#9a9a9a")
rect(1800, 229, 1834, 248, "#ffffff", "#9a9a9a")
p.scatter([bx(1644), bx(1719), bx(1793)], [py(238.5)] * 3, marker="inverted_triangle", size=5,
          fill_color="#303030", line_color=None, level="overlay")
p.scatter([bx(1699), bx(1776.5), bx(1846)], [py(238.5)] * 3, marker="triangle", size=5,
          fill_color="#303030", line_color=None, level="overlay")
txt(1656, 238.5, "sl", 10.5, "#8a8a8a")
txt(1684, 238.5, "0", 10.5, "#111111", "right")
txt(1762, 238.5, lot_text, 10.5, "#111111", "right")
txt(1803, 238.5, "tp", 10.5, "#8a8a8a")
txt(1830, 238.5, "0", 10.5, "#111111", "right")

rect(1637, 251, 1707, 269, "#f47b7b", "#d05a5a")
rect(1709, 251, 1785, 269, "#d8d8d8", "#c4c4c4")
rect(1787, 251, 1858, 269, "#8db8f5", "#6a98e0")
txt(1672, 260, "Sell", 11, "#1a1a1a", "center")
txt(1747, 260, "Закрыть", 11, "#a0a0a0", "center")
txt(1822, 260, "Buy", 11, "#1a1a1a", "center")

for lab in panel_labels:
    p.add_layout(lab)

open("out.html", "w").write(file_html(p, INLINE, title="XAUUSD,M1"))
